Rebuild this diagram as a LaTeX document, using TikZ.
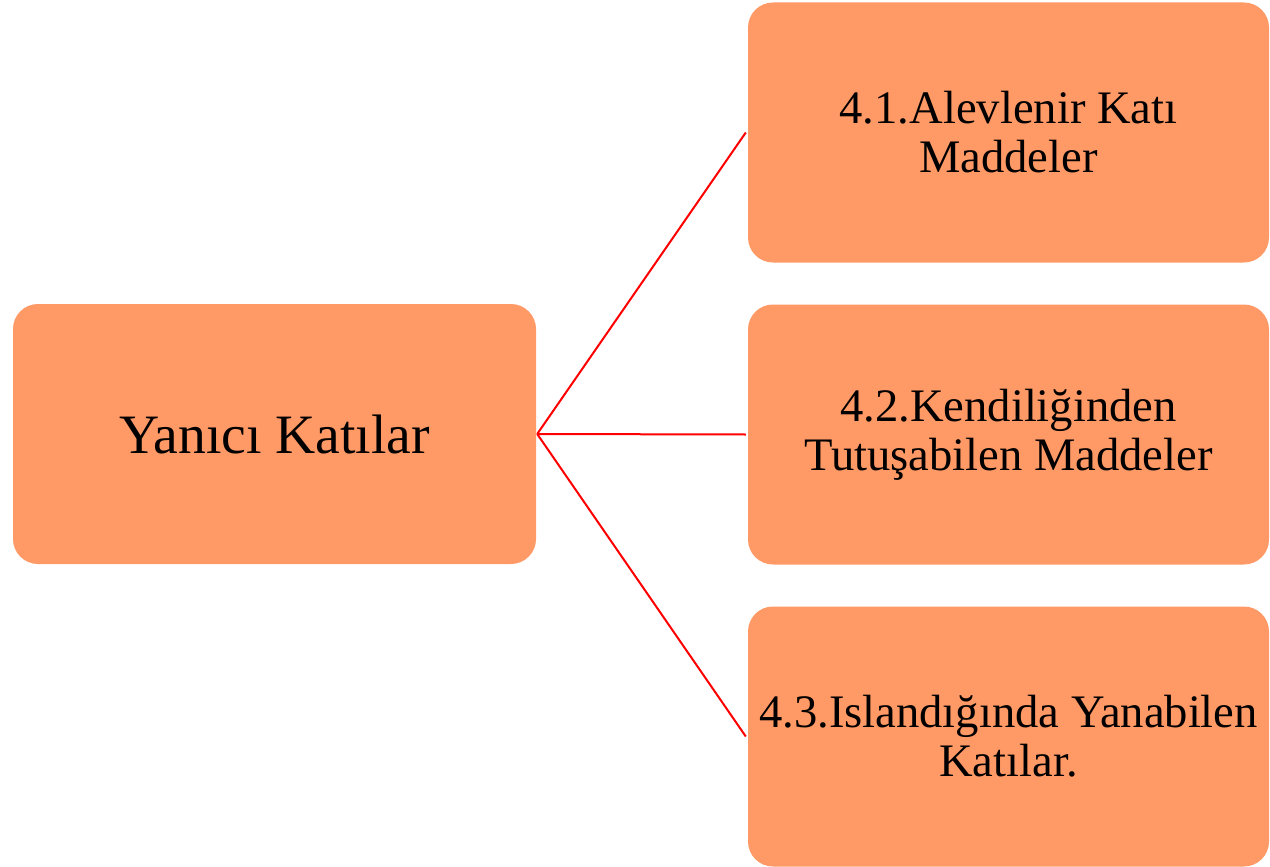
\documentclass[tikz,border=0pt]{standalone}
\usepackage{fontspec}
\setmainfont{Liberation Serif}
\definecolor{boxfill}{HTML}{FF9966}
\definecolor{linkred}{HTML}{FF0000}
\begin{document}
\begin{tikzpicture}[x=1pt,y=-1pt,
  box/.style={fill=boxfill, draw=none, rounded corners=25pt, minimum width=521pt, minimum height=260pt, inner sep=0pt, align=center, text=black},
  leaf/.style={box, font=\fontsize{46.6}{49}\selectfont},
  root/.style={box, minimum width=523pt, font=\fontsize{55.6}{60}\selectfont},
  link/.style={draw=linkred, line width=2pt}]
\useasboundingbox (0,0) rectangle (1270,867);
\node[root] (r) at (274.5,434) {Yanıcı Katılar};
\node[leaf] (a) at (1008.5,132.5) {4.1.Alevlenir Katı\\Maddeler};
\node[leaf] (b) at (1008.5,434.5) {4.2.Kendiliğinden\\Tutuşabilen Maddeler};
\node[leaf] (c) at (1008.5,736.5) {4.3.Islandığında Yanabilen\\Katılar.};
\coordinate (s) at ([xshift=1pt]r.east);
\draw[link] (s) -- ([xshift=-2pt]a.west);
\draw[link] (s) -- ([xshift=-2pt]b.west);
\draw[link] (s) -- ([xshift=-2pt]c.west);
\end{tikzpicture}
\end{document}
